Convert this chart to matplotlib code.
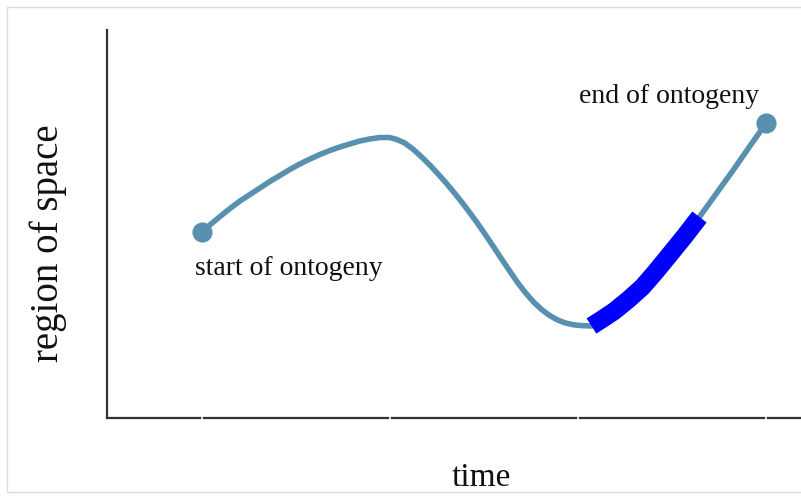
import matplotlib
matplotlib.use("Agg")
import matplotlib.pyplot as plt
from matplotlib.patches import Rectangle

# ---- data ----
time = [1.000, 1.048, 1.096, 1.149, 1.202, 1.255, 1.308, 1.361, 1.414, 1.467,
        1.520, 1.574, 1.627, 1.680, 1.733, 1.786, 1.839, 1.892, 1.945, 1.998,
        2.036, 2.078, 2.121, 2.168, 2.211, 2.253, 2.296, 2.338, 2.381, 2.423,
        2.466, 2.508, 2.551, 2.593, 2.636, 2.678, 2.721, 2.763, 2.806, 2.848,
        2.891, 2.933, 2.976, 3.018, 3.071, 3.129, 3.193, 3.268, 3.342, 3.411,
        3.485, 3.565, 3.645, 3.735, 3.825, 3.910, 4.000]
space = [4.794, 5.000, 5.193, 5.399, 5.593, 5.760, 5.928, 6.095, 6.250, 6.405,
         6.546, 6.675, 6.791, 6.894, 6.985, 7.062, 7.139, 7.191, 7.229, 7.229,
         7.178, 7.088, 6.933, 6.727, 6.521, 6.302, 6.070, 5.825, 5.567, 5.296,
         5.013, 4.716, 4.407, 4.098, 3.789, 3.492, 3.222, 2.990, 2.796, 2.642,
         2.526, 2.448, 2.402, 2.381, 2.371, 2.551, 2.758, 3.054, 3.376, 3.763,
         4.201, 4.678, 5.180, 5.786, 6.392, 6.985, 7.603]

highlight_time = [3.071, 3.129, 3.193, 3.268, 3.342, 3.411, 3.485, 3.565, 3.645]
highlight_space = [2.371, 2.551, 2.758, 3.054, 3.376, 3.763, 4.201, 4.678, 5.180]

endpoints_time = [1.000, 4.000]
endpoints_space = [4.794, 7.603]

labels = ["start of ontogeny", "end of ontogeny"]
label_pos = [(0.963, 3.69), (3.485, 8.12)]
label_ha = ["left", "center"]

x_ticks = [1, 2, 3, 4]

# ---- figure ----
plt.rcParams['font.family'] = ['Liberation Serif', 'DejaVu Serif']
fig = plt.figure(figsize=(8.01, 4.96), dpi=100)
fig.patch.set_facecolor('white')

# light frame around the image
fig.patches.append(Rectangle((6.5 / 801, 4.0 / 496), 1.2, (496 - 6.5 - 4.0) / 496,
                             transform=fig.transFigure, fill=False,
                             edgecolor='#dcdcd7', linewidth=1.0, zorder=0))

ax = fig.add_axes([107 / 801, 78 / 496, (801 - 107) / 801, 388 / 496])

line_col = '#5891af'
ax.plot(time, space, color=line_col, linewidth=4.0, solid_capstyle='round',
        solid_joinstyle='round', zorder=2)
ax.plot(highlight_time, highlight_space, color='#0000ff', linewidth=13,
        solid_capstyle='butt', solid_joinstyle='round', zorder=3)
ax.plot(endpoints_time, endpoints_space, linestyle='none', marker='o',
        markersize=13.5, color=line_col, zorder=4)

for txt, (tx, ty), ha in zip(labels, label_pos, label_ha):
    ax.text(tx, ty, txt, fontsize=20, ha=ha, va='baseline', color='#111111')

ax.set_xlim(0.495, 4.185)
ax.set_ylim(0, 10)

for s in ['top', 'right']:
    ax.spines[s].set_visible(False)
for s in ['left', 'bottom']:
    ax.spines[s].set_color('#333333')
    ax.spines[s].set_linewidth(1.6)

ax.set_xticks(x_ticks)
ax.set_xticklabels([])
ax.tick_params(axis='x', direction='inout', length=8, width=1.2, color='white')
ax.xaxis.set_zorder(5)
ax.set_yticks([])

ax.set_xlabel('time', fontsize=24, color='#111111')
ax.xaxis.label.set_va('center')
ax.xaxis.set_label_coords((481 - 107) / 694, -(478 - 418) / 388)
ax.set_ylabel('region of space', fontsize=28, color='#111111')
ax.yaxis.label.set_va('center')
ax.yaxis.set_label_coords((48 - 107) / 694, (418 - 243) / 388)

fig.savefig('out.png', dpi=100, facecolor='white')
